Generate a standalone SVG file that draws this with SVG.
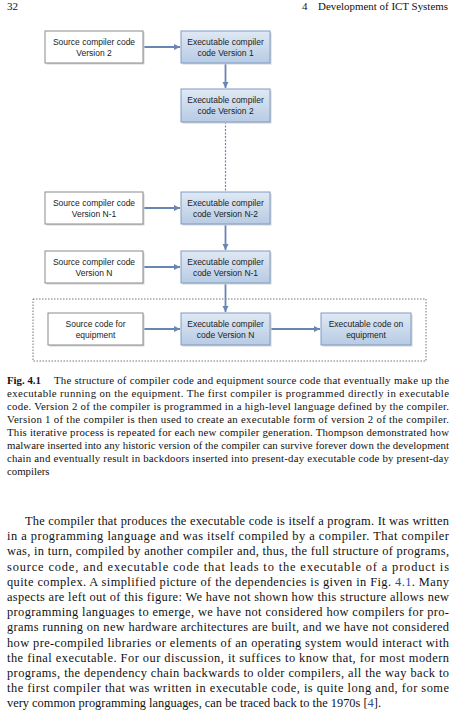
<svg xmlns="http://www.w3.org/2000/svg" width="456" height="721" viewBox="0 0 456 721">
<style>
.hdr{font-family:"Liberation Serif",serif;font-size:11px;fill:#111}
.cap{font-family:"Liberation Serif",serif;font-size:10.8px;fill:#111}
.body{font-family:"Liberation Serif",serif;font-size:12.4px;fill:#111}
.lbl{font-family:"Liberation Sans",Arial,sans-serif;font-size:8.5px;fill:#222;text-anchor:middle}
.src{fill:#fff;stroke:#8a8a8a;stroke-width:1}
.exe{fill:url(#g);stroke:#7f9cc4;stroke-width:1}
.shd{fill:#d4d4d4}
.conn{stroke:#6786b0;stroke-width:1.8;fill:none}
.link{fill:#2a4ea8}
</style>
<defs>
<linearGradient id="g" x1="0" y1="0" x2="0" y2="1">
<stop offset="0" stop-color="#e0e9f4"/>
<stop offset="1" stop-color="#b7cbe4"/>
</linearGradient>
<marker id="ah" markerWidth="7" markerHeight="7" refX="6" refY="3.5" orient="auto" markerUnits="userSpaceOnUse">
<path d="M0,0.5 L6,3.5 L0,6.5 z" fill="#6786b0"/>
</marker>
</defs>
<rect width="456" height="721" fill="#fff"/>
<text class="hdr" x="7" y="10">32</text>
<text class="hdr" x="302" y="10">4</text>
<text class="hdr" x="448" y="10" text-anchor="end" textLength="130" lengthAdjust="spacingAndGlyphs">Development of ICT Systems</text>

<rect x="33" y="299" width="393" height="62" fill="none" stroke="#666" stroke-width="0.9" stroke-dasharray="1.5,1.5"/>

<g id="connectors">
<line class="conn" x1="143" y1="47" x2="180" y2="47" marker-end="url(#ah)"/>
<line class="conn" x1="225.5" y1="63" x2="225.5" y2="88" marker-end="url(#ah)"/>
<line x1="225.5" y1="122" x2="225.5" y2="192" stroke="#6786b0" stroke-width="1.2" stroke-dasharray="2,1.5"/>
<line class="conn" x1="143" y1="208" x2="180" y2="208" marker-end="url(#ah)"/>
<line class="conn" x1="225.5" y1="224" x2="225.5" y2="250" marker-end="url(#ah)"/>
<line class="conn" x1="143" y1="267" x2="180" y2="267" marker-end="url(#ah)"/>
<line class="conn" x1="225.5" y1="283" x2="225.5" y2="312" marker-end="url(#ah)"/>
<line class="conn" x1="143" y1="329" x2="180" y2="329" marker-end="url(#ah)"/>
<line class="conn" x1="270" y1="329" x2="320" y2="329" marker-end="url(#ah)"/>
</g>

<g id="src-v2"><rect class="shd" x="46.5" y="32.5" width="98" height="32"/><rect class="src" x="45" y="31" width="98" height="32"/><text class="lbl" x="94" y="45">Source compiler code</text><text class="lbl" x="94" y="56">Version 2</text></g>
<g id="exe-v1"><rect class="shd" x="182.5" y="32.5" width="89" height="32"/><rect class="exe" x="181" y="31" width="89" height="32"/><text class="lbl" x="225.5" y="45">Executable compiler</text><text class="lbl" x="225.5" y="56">code Version 1</text></g>
<g id="exe-v2"><rect class="shd" x="182.5" y="90.5" width="89" height="33"/><rect class="exe" x="181" y="89" width="89" height="33"/><text class="lbl" x="225.5" y="103">Executable compiler</text><text class="lbl" x="225.5" y="114">code Version 2</text></g>
<g id="src-vn1"><rect class="shd" x="46.5" y="193.5" width="98" height="32"/><rect class="src" x="45" y="192" width="98" height="32"/><text class="lbl" x="94" y="206">Source compiler code</text><text class="lbl" x="94" y="217">Version N-1</text></g>
<g id="exe-vn2"><rect class="shd" x="182.5" y="193.5" width="89" height="32"/><rect class="exe" x="181" y="192" width="89" height="32"/><text class="lbl" x="225.5" y="206">Executable compiler</text><text class="lbl" x="225.5" y="217">code Version N-2</text></g>
<g id="src-vn"><rect class="shd" x="46.5" y="252.5" width="98" height="32"/><rect class="src" x="45" y="251" width="98" height="32"/><text class="lbl" x="94" y="265">Source compiler code</text><text class="lbl" x="94" y="276">Version N</text></g>
<g id="exe-vn1"><rect class="shd" x="182.5" y="252.5" width="89" height="32"/><rect class="exe" x="181" y="251" width="89" height="32"/><text class="lbl" x="225.5" y="265">Executable compiler</text><text class="lbl" x="225.5" y="276">code Version N-1</text></g>
<g id="src-equip"><rect class="shd" x="49.5" y="314.5" width="95" height="32"/><rect class="src" x="48" y="313" width="95" height="32"/><text class="lbl" x="95.5" y="327">Source code for</text><text class="lbl" x="95.5" y="338">equipment</text></g>
<g id="exe-vn"><rect class="shd" x="182.5" y="314.5" width="89" height="32"/><rect class="exe" x="181" y="313" width="89" height="32"/><text class="lbl" x="225.5" y="327">Executable compiler</text><text class="lbl" x="225.5" y="338">code Version N</text></g>
<g id="exe-equip"><rect class="shd" x="322.5" y="314.5" width="90" height="32"/><rect class="exe" x="321" y="313" width="90" height="32"/><text class="lbl" x="366" y="327">Executable code on</text><text class="lbl" x="366" y="338">equipment</text></g>

<g id="caption">
<text class="cap" x="7" y="384" font-weight="bold">Fig. 4.1</text>
<text class="cap" x="54" y="384" textLength="395" lengthAdjust="spacing">The structure of compiler code and equipment source code that eventually make up the</text>
<text class="cap" x="7" y="397" textLength="442" lengthAdjust="spacing">executable running on the equipment. The first compiler is programmed directly in executable</text>
<text class="cap" x="7" y="410" textLength="442" lengthAdjust="spacing">code. Version 2 of the compiler is programmed in a high-level language defined by the compiler.</text>
<text class="cap" x="7" y="423" textLength="442" lengthAdjust="spacing">Version 1 of the compiler is then used to create an executable form of version 2 of the compiler.</text>
<text class="cap" x="7" y="436" textLength="442" lengthAdjust="spacing">This iterative process is repeated for each new compiler generation. Thompson demonstrated how</text>
<text class="cap" x="7" y="449" textLength="442" lengthAdjust="spacing">malware inserted into any historic version of the compiler can survive forever down the development</text>
<text class="cap" x="7" y="462" textLength="442" lengthAdjust="spacing">chain and eventually result in backdoors inserted into present-day executable code by present-day</text>
<text class="cap" x="7" y="475">compilers</text>
</g>

<g id="bodytext">
<text class="body" x="25" y="525" textLength="424" lengthAdjust="spacing">The compiler that produces the executable code is itself a program. It was written</text>
<text class="body" x="7" y="540.2" textLength="442" lengthAdjust="spacing">in a programming language and was itself compiled by a compiler. That compiler</text>
<text class="body" x="7" y="555.4" textLength="442" lengthAdjust="spacing">was, in turn, compiled by another compiler and, thus, the full structure of programs,</text>
<text class="body" x="7" y="570.6" textLength="442" lengthAdjust="spacing">source code, and executable code that leads to the executable of a product is</text>
<text class="body" x="7" y="585.8" textLength="442" lengthAdjust="spacing">quite complex. A simplified picture of the dependencies is given in Fig. <tspan class="link">4.1</tspan>. Many</text>
<text class="body" x="7" y="601" textLength="442" lengthAdjust="spacing">aspects are left out of this figure: We have not shown how this structure allows new</text>
<text class="body" x="7" y="616.2" textLength="442" lengthAdjust="spacing">programming languages to emerge, we have not considered how compilers for pro-</text>
<text class="body" x="7" y="631.4" textLength="442" lengthAdjust="spacing">grams running on new hardware architectures are built, and we have not considered</text>
<text class="body" x="7" y="646.6" textLength="442" lengthAdjust="spacing">how pre-compiled libraries or elements of an operating system would interact with</text>
<text class="body" x="7" y="661.8" textLength="442" lengthAdjust="spacing">the final executable. For our discussion, it suffices to know that, for most modern</text>
<text class="body" x="7" y="677" textLength="442" lengthAdjust="spacing">programs, the dependency chain backwards to older compilers, all the way back to</text>
<text class="body" x="7" y="692.2" textLength="442" lengthAdjust="spacing">the first compiler that was written in executable code, is quite long and, for some</text>
<text class="body" x="7" y="707.4">very common programming languages, can be traced back to the 1970s [<tspan class="link">4</tspan>].</text>
</g>
</svg>
